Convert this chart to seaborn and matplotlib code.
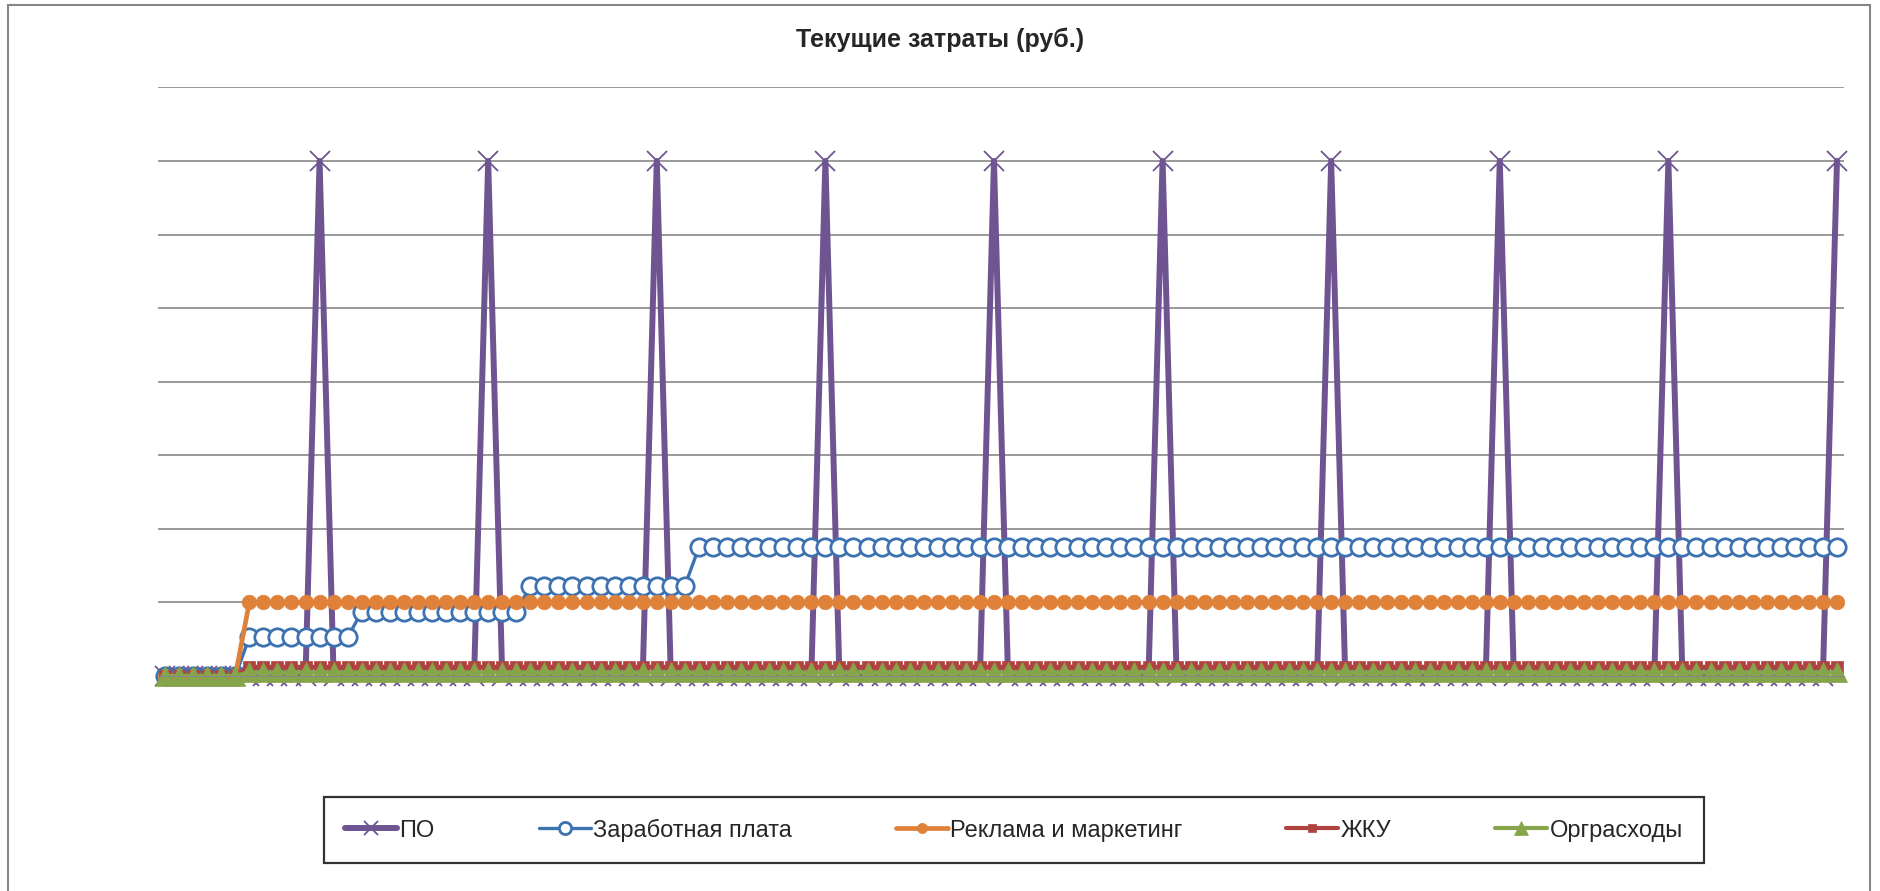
import numpy as np
import pandas as pd
import matplotlib
matplotlib.use("Agg")
import matplotlib.pyplot as plt
import seaborn as sns
from matplotlib.patches import Rectangle

# monthly values, 120 months (grid step = 40 000 руб.)
months = list(range(1, 121))
po = ([0] * 11 + [280000]) * 10
salary = [0] * 6 + [21000] * 8 + [35000] * 12 + [49000] * 12 + [70000] * 82
marketing = [0] * 6 + [40000] * 114
zhku = [0] * 6 + [5000] * 114
org = [0] * 6 + [2000] * 114

labels = ["ПО", "Заработная плата", "Реклама и маркетинг", "ЖКУ", "Орграсходы"]
y_ticks = [40000, 80000, 120000, 160000, 200000, 240000, 280000, 320000]

df = pd.DataFrame({"month": months, labels[0]: po, labels[1]: salary,
                   labels[2]: marketing, labels[3]: zhku, labels[4]: org})

sns.set_style("white")
fonts = ["Liberation Sans Narrow", "Liberation Sans", "DejaVu Sans"]
plt.rcParams["font.family"] = fonts

fig = plt.figure(figsize=(18.8, 8.91), dpi=100)
ax = fig.add_axes([158 / 1880, 1 - 676 / 891, (1844 - 158) / 1880, (676 - 87.4) / 891])

colors = ["#6E5592", "#3D72B0", "#E0813A", "#B04340", "#86A54B"]
styles = {
    labels[0]: dict(linewidth=4.3, marker="x", markersize=14, markeredgewidth=1.3),
    labels[1]: dict(linewidth=2.4, marker="o", markersize=12.5,
                    markerfacecolor="white", markeredgewidth=2.0),
    labels[2]: dict(linewidth=3.4, marker="o", markersize=10.5, markeredgewidth=0.5),
    labels[3]: dict(linewidth=3.0, marker="s", markersize=8, markeredgewidth=0.5),
    labels[4]: dict(linewidth=3.0, marker="^", markersize=14, markeredgewidth=0.5),
}

for name, c in zip(labels, colors):
    sns.lineplot(ax=ax, data=df, x="month", y=name, label=name, color=c,
                 markeredgecolor=c, clip_on=False, **styles[name])

ax.set_xlim(0.5, 120.5)
ax.set_ylim(0, 320000)
ax.set_yticks(y_ticks)
ax.set_yticklabels([])
ax.set_xticks([])
ax.tick_params(length=0)
ax.set_xlabel("")
ax.set_ylabel("")
ax.grid(axis="y", color="#878787", linewidth=1.2)
ax.set_axisbelow(True)
for s in ["left", "right", "top"]:
    ax.spines[s].set_visible(False)
ax.spines["bottom"].set_color("#878787")

fig.text(0.5, 1 - 40 / 891, "Текущие затраты (руб.)", ha="center", va="center",
         fontsize=18, fontweight="bold", family=fonts)

ax.get_legend().remove()
handles, labs = ax.get_legend_handles_labels()
leg = fig.legend(handles, labs, loc="center", ncol=5,
                 bbox_to_anchor=(1014 / 1880, 1 - 830 / 891),
                 frameon=True, fancybox=False, handlelength=2.2,
                 handletextpad=0.1, columnspacing=4.4, borderpad=0.9,
                 borderaxespad=0, prop={"family": fonts, "size": 17})
leg.get_frame().set_edgecolor("black")
leg.get_frame().set_linewidth(1.6)
for h in leg.legend_handles:
    h.set_markersize(h.get_markersize() * 0.7)

fig.patches.append(Rectangle((8 / 1880, -0.05), (1870 - 8) / 1880, 1.05 - 5 / 891,
                             transform=fig.transFigure, fill=False,
                             edgecolor="#868686", linewidth=1.5))

fig.savefig("out.png", dpi=100)
